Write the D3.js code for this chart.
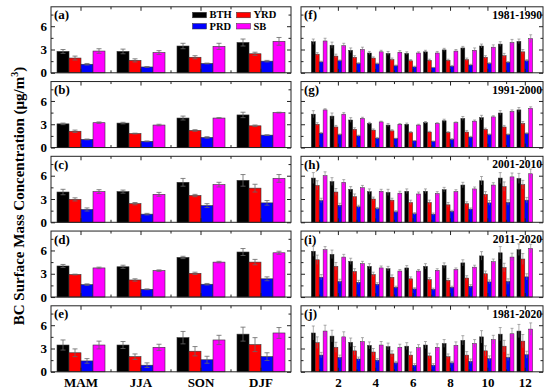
<!DOCTYPE html>
<html>
<head>
<meta charset="utf-8">
<script src="https://cdn.jsdelivr.net/npm/d3@7"></script>
<style>
  body { margin: 0; background: #fff; }
  text { font-family: "Liberation Serif", "Times New Roman", serif; font-weight: bold; }
</style>
</head>
<body>
<script>
// regions, seasons, periods
const regions = ["BTH", "YRD", "PRD", "SB"];
const colors = ["#000000", "#ff0000", "#0000ff", "#ff00ff"];
const seasons = ["MAM", "JJA", "SON", "DJF"];
const months = [1, 2, 3, 4, 5, 6, 7, 8, 9, 10, 11, 12];
const periods = ["1981-1990", "1991-2000", "2001-2010", "2011-2020", "1981-2020"];
const leftTags = ["(a)", "(b)", "(c)", "(d)", "(e)"];
const rightTags = ["(f)", "(g)", "(h)", "(i)", "(j)"];
const yTicks = [0, 3, 6];

// seasonal means, rows = BTH, YRD, PRD, SB ; columns = MAM, JJA, SON, DJF
const seasA = [[2.75, 2.75, 3.45, 3.9], [1.9, 1.6, 2.0, 2.45], [1.1, 0.75, 1.2, 1.5], [2.8, 2.6, 3.4, 4.05]];
const seasB = [[3.05, 3.15, 3.8, 4.2], [2.1, 1.8, 2.2, 2.8], [1.05, 0.8, 1.3, 1.6], [3.2, 2.9, 3.8, 4.5]];
const seasC = [[3.9, 3.95, 5.15, 5.4], [2.95, 2.4, 3.45, 4.4], [1.65, 1.05, 2.15, 2.5], [3.95, 3.6, 4.85, 5.65]];
const seasD = [[4.0, 3.9, 5.1, 5.8], [2.9, 2.2, 3.05, 4.5], [1.6, 1.0, 1.65, 2.35], [3.75, 3.4, 4.5, 5.7]];
const seasE = [[3.45, 3.45, 4.4, 4.85], [2.45, 1.95, 2.65, 3.5], [1.4, 0.85, 1.55, 1.95], [3.45, 3.15, 4.1, 5.0]];
// seasonal std errors
const errA = [[0.25, 0.3, 0.35, 0.45], [0.25, 0.2, 0.2, 0.2], [0.1, 0.05, 0.05, 0.1], [0.3, 0.25, 0.4, 0.5]];
const errB = [[0.1, 0.1, 0.25, 0.35], [0.15, 0.05, 0.1, 0.1], [0.05, 0.05, 0.1, 0.05], [0.1, 0.1, 0.05, 0.05]];
const errC = [[0.35, 0.2, 0.5, 0.75], [0.2, 0.15, 0.15, 0.5], [0.2, 0.1, 0.25, 0.3], [0.25, 0.25, 0.3, 0.5]];
const errD = [[0.2, 0.2, 0.15, 0.45], [0.05, 0.15, 0.15, 0.35], [0.1, 0.05, 0.1, 0.25], [0.1, 0.1, 0.1, 0.2]];
const errE = [[0.65, 0.45, 0.8, 0.9], [0.5, 0.35, 0.6, 0.9], [0.3, 0.3, 0.45, 0.5], [0.5, 0.4, 0.6, 0.7]];

// monthly means, rows = BTH, YRD, PRD, SB ; columns = Jan..Dec
const monF = [
  [4.0, 3.55, 2.9, 2.55, 2.5, 2.5, 2.7, 2.95, 3.2, 3.45, 3.7, 4.05],
  [2.4, 2.15, 2.0, 1.9, 1.7, 1.55, 1.6, 1.6, 1.7, 2.0, 2.2, 2.7],
  [1.4, 1.55, 1.2, 1.15, 0.9, 0.75, 0.65, 0.85, 1.0, 1.2, 1.35, 1.55],
  [4.1, 3.5, 3.0, 2.7, 2.65, 2.55, 2.55, 2.8, 2.9, 3.3, 3.9, 4.4]];
const monG = [
  [4.3, 4.05, 3.55, 3.1, 2.9, 3.0, 3.2, 3.45, 3.75, 3.85, 4.45, 4.85],
  [3.0, 2.65, 2.35, 2.25, 2.15, 1.95, 2.0, 1.95, 2.0, 2.35, 2.65, 3.1],
  [1.85, 1.65, 1.5, 1.2, 1.15, 0.85, 0.8, 1.05, 1.35, 1.65, 1.65, 1.8],
  [4.85, 4.3, 3.75, 3.3, 3.0, 2.9, 3.1, 3.2, 3.4, 3.95, 4.65, 5.05]];
const monH = [
  [5.7, 5.25, 4.25, 3.95, 3.85, 4.0, 4.0, 4.2, 4.8, 5.35, 5.7, 5.65],
  [4.75, 3.9, 3.3, 3.0, 2.85, 2.55, 2.55, 2.25, 2.4, 3.6, 4.6, 4.85],
  [2.8, 2.2, 2.0, 1.75, 1.35, 1.1, 1.05, 1.4, 1.7, 2.5, 2.55, 2.85],
  [6.0, 5.15, 4.45, 4.0, 3.75, 3.65, 3.7, 3.95, 4.3, 4.8, 5.85, 6.25]];
const monI = [
  [5.9, 5.5, 4.6, 3.95, 3.65, 3.75, 3.95, 4.05, 4.4, 5.3, 5.7, 6.1],
  [4.8, 3.95, 3.3, 2.9, 2.55, 2.35, 2.25, 2.15, 2.45, 3.0, 3.8, 4.9],
  [2.55, 2.0, 1.9, 1.65, 1.25, 1.05, 1.0, 1.25, 1.4, 1.95, 2.0, 2.6],
  [6.1, 5.15, 4.3, 3.75, 3.35, 3.35, 3.45, 3.55, 3.85, 4.55, 5.15, 6.25]];
const monJ = [
  [5.0, 4.6, 3.8, 3.4, 3.25, 3.3, 3.45, 3.65, 4.05, 4.5, 4.85, 5.25],
  [3.75, 3.15, 2.7, 2.55, 2.3, 2.15, 2.05, 1.95, 2.15, 2.7, 3.3, 3.95],
  [2.15, 1.85, 1.65, 1.5, 1.15, 0.85, 0.85, 1.15, 1.35, 1.7, 1.85, 2.2],
  [5.25, 4.5, 3.9, 3.45, 3.15, 3.1, 3.15, 3.4, 3.65, 4.15, 4.9, 5.5]];
// monthly std errors
const mErrF = [
  [0.35, 0.4, 0.3, 0.2, 0.25, 0.2, 0.2, 0.2, 0.2, 0.25, 0.3, 0.3],
  [0.2, 0.25, 0.2, 0.15, 0.2, 0.15, 0.15, 0.15, 0.2, 0.2, 0.3, 0.3],
  [0.1, 0.1, 0.1, 0.1, 0.1, 0.1, 0.05, 0.1, 0.1, 0.1, 0.1, 0.15],
  [0.35, 0.3, 0.3, 0.2, 0.2, 0.15, 0.2, 0.2, 0.3, 0.3, 0.4, 0.5]];
const mErrG = [
  [0.45, 0.4, 0.3, 0.15, 0.2, 0.15, 0.15, 0.2, 0.25, 0.3, 0.3, 0.3],
  [0.2, 0.2, 0.2, 0.15, 0.15, 0.1, 0.1, 0.1, 0.2, 0.15, 0.2, 0.25],
  [0.1, 0.1, 0.1, 0.1, 0.05, 0.05, 0.05, 0.1, 0.1, 0.1, 0.1, 0.1],
  [0.15, 0.2, 0.15, 0.1, 0.1, 0.1, 0.1, 0.1, 0.15, 0.15, 0.2, 0.2]];
const mErrH = [
  [0.7, 0.5, 0.35, 0.35, 0.4, 0.3, 0.3, 0.3, 0.35, 0.55, 0.7, 0.65],
  [0.6, 0.45, 0.35, 0.25, 0.25, 0.3, 0.3, 0.3, 0.25, 0.35, 0.6, 0.55],
  [0.3, 0.25, 0.2, 0.15, 0.15, 0.15, 0.15, 0.15, 0.15, 0.3, 0.35, 0.35],
  [0.5, 0.35, 0.3, 0.25, 0.25, 0.25, 0.25, 0.25, 0.25, 0.3, 0.5, 0.6]];
const mErrI = [
  [0.65, 0.55, 0.4, 0.35, 0.3, 0.3, 0.35, 0.35, 0.4, 0.55, 0.8, 0.75],
  [0.6, 0.5, 0.35, 0.3, 0.3, 0.25, 0.25, 0.25, 0.3, 0.35, 0.55, 0.7],
  [0.35, 0.3, 0.25, 0.2, 0.15, 0.15, 0.15, 0.15, 0.2, 0.25, 0.35, 0.4],
  [0.4, 0.35, 0.3, 0.25, 0.2, 0.2, 0.2, 0.2, 0.25, 0.35, 0.5, 0.55]];
const mErrJ = [
  [0.9, 0.75, 0.55, 0.45, 0.45, 0.45, 0.45, 0.5, 0.6, 0.8, 0.85, 0.85],
  [0.75, 0.65, 0.55, 0.45, 0.4, 0.4, 0.35, 0.35, 0.45, 0.65, 0.75, 0.85],
  [0.35, 0.3, 0.25, 0.2, 0.2, 0.2, 0.2, 0.2, 0.3, 0.35, 0.4, 0.45],
  [0.75, 0.65, 0.5, 0.45, 0.4, 0.4, 0.45, 0.45, 0.5, 0.55, 0.7, 0.8]];

const seasMeans = [seasA, seasB, seasC, seasD, seasE];
const seasErrs = [errA, errB, errC, errD, errE];
const monMeans = [monF, monG, monH, monI, monJ];
const monErrs = [mErrF, mErrG, mErrH, mErrI, mErrJ];

const W = 550, H = 392;
const svg = d3.select("body").append("svg").attr("width", W).attr("height", H);

const L0 = 51, L1 = 291, R0 = 301, R1 = 543;
const panelH = 66, firstTop = 6.8, step = 74.75;

const xSeason = d3.scaleBand().domain(seasons).range([L0, L1]).paddingInner(0.2).paddingOuter(0.1);
const xRegion = d3.scaleBand().domain(regions).range([0, xSeason.bandwidth()]);
const xMonth = d3.scaleLinear().domain([0, 13]).range([R0 - 0.5, R1 + 0.5]);
const mBar = xMonth(0.21) - xMonth(0);

function drawFrame(g, x0, x1, y) {
  g.append("rect").attr("x", x0).attr("y", y.range()[1]).attr("width", x1 - x0)
    .attr("height", y.range()[0] - y.range()[1]).attr("fill", "none")
    .attr("stroke", "#222").attr("stroke-width", 1);
}

function yAxes(g, x0, x1, y, labels) {
  const major = d3.axisLeft(y).tickValues(yTicks).tickSize(-4).tickPadding(4)
    .tickFormat(labels ? d3.format("d") : "");
  const minor = d3.axisLeft(y).tickValues([1.5, 4.5, 7.5]).tickSize(-2.5).tickFormat("");
  const left = g.append("g").attr("transform", `translate(${x0},0)`).call(major);
  g.append("g").attr("transform", `translate(${x0},0)`).call(minor);
  g.append("g").attr("transform", `translate(${x1},0)`).call(d3.axisRight(y).tickValues(yTicks).tickSize(-4).tickFormat(""));
  g.append("g").attr("transform", `translate(${x1},0)`).call(d3.axisRight(y).tickValues([1.5, 4.5, 7.5]).tickSize(-2.5).tickFormat(""));
  left.selectAll("text").attr("font-size", 13).attr("fill", "#000");
}

function tidy(g) {
  g.selectAll(".domain").remove();
  g.selectAll(".tick line").attr("stroke", "#222");
}

for (let p = 0; p < 5; p++) {
  const top = firstTop + step * p;
  const y = d3.scaleLinear().domain([0, 8.5]).range([top + panelH, top]);
  const last = p === 4;

  // ---------- seasonal panel ----------
  const gl = svg.append("g");
  seasons.forEach((s, si) => {
    regions.forEach((r, ri) => {
      const v = seasMeans[p][ri][si], e = seasErrs[p][ri][si];
      const bx = xSeason(s) + xRegion(r);
      const cx = bx + xRegion.bandwidth() / 2;
      gl.append("rect").attr("x", bx).attr("y", y(v)).attr("width", xRegion.bandwidth())
        .attr("height", y(0) - y(v)).attr("fill", colors[ri]).attr("stroke", "#333").attr("stroke-width", 0.6);
      gl.append("line").attr("x1", cx).attr("x2", cx).attr("y1", y(v - e)).attr("y2", y(v + e))
        .attr("stroke", "#666").attr("stroke-width", 0.8);
      gl.append("line").attr("x1", cx - 2.5).attr("x2", cx + 2.5).attr("y1", y(v + e)).attr("y2", y(v + e))
        .attr("stroke", "#666").attr("stroke-width", 0.8);
      gl.append("line").attr("x1", cx - 2.5).attr("x2", cx + 2.5).attr("y1", y(v - e)).attr("y2", y(v - e))
        .attr("stroke", "#666").attr("stroke-width", 0.8);
    });
  });
  yAxes(gl, L0, L1, y, true);
  // x ticks: major at group centres, minor between groups
  const bounds = [xSeason("JJA") - xSeason.step() * 0.1, xSeason("SON") - xSeason.step() * 0.1, xSeason("DJF") - xSeason.step() * 0.1];
  const bot = gl.append("g").attr("transform", `translate(0,${y(0)})`)
    .call(d3.axisBottom(xSeason).tickSize(-4).tickPadding(6).tickFormat(last ? null : ""));
  bot.selectAll("text").attr("font-size", 13).attr("fill", "#000");
  gl.append("g").attr("transform", `translate(0,${y.range()[1]})`)
    .call(d3.axisTop(xSeason).tickSize(-4).tickFormat(""));
  bounds.forEach(b => {
    gl.append("line").attr("x1", b).attr("x2", b).attr("y1", y(0)).attr("y2", y(0) - 2.5).attr("stroke", "#222");
    gl.append("line").attr("x1", b).attr("x2", b).attr("y1", y.range()[1]).attr("y2", y.range()[1] + 2.5).attr("stroke", "#222");
  });
  tidy(gl);
  drawFrame(gl, L0, L1, y);
  gl.append("text").attr("x", L0 + 3).attr("y", top + 12.5).attr("font-size", 13).text(leftTags[p]);

  // ---------- monthly panel ----------
  const gr = svg.append("g");
  months.forEach((m, mi) => {
    regions.forEach((r, ri) => {
      const v = monMeans[p][ri][mi], e = monErrs[p][ri][mi];
      const bx = xMonth(m) - 2 * mBar + ri * mBar;
      const cx = bx + mBar / 2;
      gr.append("rect").attr("x", bx).attr("y", y(v)).attr("width", mBar)
        .attr("height", y(0) - y(v)).attr("fill", colors[ri]).attr("stroke", "#333").attr("stroke-width", 0.5);
      gr.append("line").attr("x1", cx).attr("x2", cx).attr("y1", y(v - e)).attr("y2", y(v + e))
        .attr("stroke", "#777").attr("stroke-width", 0.6);
      gr.append("line").attr("x1", cx - 1.5).attr("x2", cx + 1.5).attr("y1", y(v + e)).attr("y2", y(v + e))
        .attr("stroke", "#777").attr("stroke-width", 0.6);
    });
  });
  yAxes(gr, R0, R1, y, false);
  const even = months.filter(m => m % 2 === 0), odd = months.filter(m => m % 2 === 1);
  const rb = gr.append("g").attr("transform", `translate(0,${y(0)})`)
    .call(d3.axisBottom(xMonth).tickValues(even).tickSize(-4).tickPadding(6).tickFormat(last ? d3.format("d") : ""));
  rb.selectAll("text").attr("font-size", 13).attr("fill", "#000");
  gr.append("g").attr("transform", `translate(0,${y(0)})`)
    .call(d3.axisBottom(xMonth).tickValues(odd).tickSize(-2.5).tickFormat(""));
  gr.append("g").attr("transform", `translate(0,${y.range()[1]})`)
    .call(d3.axisTop(xMonth).tickValues(even).tickSize(-4).tickFormat(""));
  gr.append("g").attr("transform", `translate(0,${y.range()[1]})`)
    .call(d3.axisTop(xMonth).tickValues(odd).tickSize(-2.5).tickFormat(""));
  tidy(gr);
  drawFrame(gr, R0, R1, y);
  gr.append("text").attr("x", R0 + 3).attr("y", top + 12.5).attr("font-size", 13).text(rightTags[p]);
  gr.append("text").attr("x", R1 - 1).attr("y", top + 12).attr("font-size", 11.5)
    .attr("text-anchor", "end").text(periods[p]);
}

// legend in panel (a)
const leg = svg.append("g");
regions.forEach((r, i) => {
  const lx = i % 2 === 0 ? 192.5 : 236.5;
  const ly = i < 2 ? 12.3 : 23.5;
  leg.append("rect").attr("x", lx).attr("y", ly).attr("width", 14).attr("height", 5.5)
    .attr("fill", colors[i]).attr("stroke", "#333").attr("stroke-width", 0.5);
  leg.append("text").attr("x", lx + 17).attr("y", ly + 6).attr("font-size", 10.5).text(r);
});

// y axis title
svg.append("text")
  .attr("transform", "translate(24,196) rotate(-90)")
  .attr("text-anchor", "middle").attr("font-size", 15)
  .html('BC Surface Mass Concentration (μg/m<tspan dy="-6" font-size="10">3</tspan><tspan dy="6">)</tspan>');
</script>
</body>
</html>
